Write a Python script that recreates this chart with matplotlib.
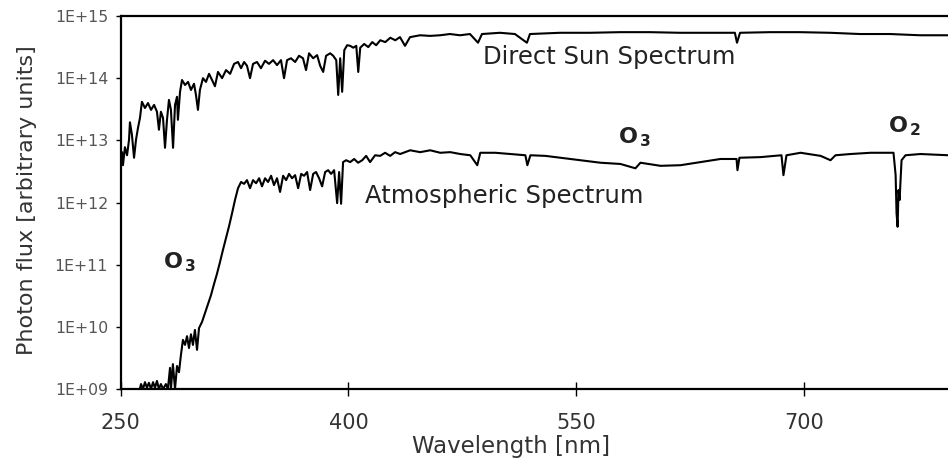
import numpy as np
import matplotlib
matplotlib.use('Agg')
import matplotlib.pyplot as plt

# Espectro directo del sol: longitud de onda [nm] y log10 del flujo
sun_wl = [250.2, 250.9, 251.5, 252.8, 254.2, 255.5, 256.1, 257.4, 258.8, 260.1,
          261.4, 262.7, 264.0, 266.0, 268.0, 270.0, 272.0, 273.9, 275.2, 276.5,
          277.9, 279.2, 280.5, 281.8, 283.1, 284.5, 285.8, 287.1, 287.7, 289.1,
          290.4, 292.4, 294.4, 296.3, 298.3, 299.6, 300.9, 302.2, 304.2, 306.2,
          308.2, 310.2, 312.1, 314.1, 316.8, 319.4, 322.1, 324.7, 327.3, 329.3,
          331.3, 333.2, 335.2, 337.2, 339.8, 342.4, 345.1, 347.7, 350.4, 353.0,
          355.6, 357.6, 359.6, 362.2, 364.9, 367.5, 370.1, 372.1, 374.1, 376.8,
          379.4, 381.4, 383.4, 385.3, 388.0, 390.0, 392.0, 393.3, 394.6, 395.9,
          397.3, 399.2, 401.2, 403.2, 405.2, 406.5, 407.8, 410.4, 413.1, 415.7,
          418.3, 421.0, 424.3, 427.6, 430.9, 434.0, 437.3, 440.6, 447.2, 453.8,
          460.4, 466.9, 473.5, 480.1, 485.4, 488.0, 499.8, 509.7, 517.6, 519.6,
          539.4, 559.1, 578.9, 598.6, 618.4, 638.2, 654.6, 656.0, 658.0, 677.7,
          697.5, 717.3, 737.0, 756.8, 776.6, 795.0]
sun_log = [12.68, 12.81, 12.60, 12.89, 12.76, 13.01, 13.29, 13.09, 12.72, 13.01,
           13.20, 13.36, 13.62, 13.52, 13.60, 13.49, 13.57, 13.46, 13.17, 13.46,
           13.36, 12.88, 13.33, 13.65, 13.49, 12.88, 13.57, 13.70, 13.33, 13.78,
           13.97, 13.89, 13.94, 13.81, 13.91, 13.73, 13.49, 13.81, 14.00, 13.94,
           14.07, 13.97, 13.87, 14.10, 14.00, 14.13, 14.07, 14.23, 14.26, 14.16,
           14.26, 14.20, 14.00, 14.23, 14.26, 14.16, 14.28, 14.23, 14.29, 14.21,
           14.29, 14.00, 14.29, 14.32, 14.26, 14.36, 14.32, 14.13, 14.40, 14.32,
           14.37, 14.20, 14.10, 14.36, 14.40, 14.36, 14.29, 13.73, 14.32, 13.78,
           14.45, 14.53, 14.52, 14.49, 14.52, 14.10, 14.49, 14.55, 14.50, 14.58,
           14.53, 14.61, 14.58, 14.65, 14.61, 14.66, 14.52, 14.66, 14.69, 14.68,
           14.69, 14.71, 14.69, 14.71, 14.57, 14.71, 14.73, 14.71, 14.57, 14.71,
           14.73, 14.73, 14.74, 14.74, 14.73, 14.73, 14.73, 14.57, 14.73, 14.74,
           14.74, 14.73, 14.71, 14.71, 14.69, 14.69]

# Espectro atmosferico
atm_wl = [262.1, 263.4, 264.7, 266.0, 267.3, 268.6, 270.0, 271.3, 272.6, 273.9,
          275.2, 276.5, 277.9, 279.8, 281.1, 282.5, 283.1, 284.4, 285.8, 287.1,
          288.4, 289.7, 291.0, 292.4, 293.7, 295.0, 296.3, 297.6, 298.9, 300.3,
          301.6, 303.6, 305.5, 307.5, 309.5, 311.5, 313.4, 315.4, 317.4, 319.4,
          321.4, 323.3, 325.3, 327.3, 329.3, 331.3, 333.2, 335.2, 337.2, 339.2,
          341.2, 343.1, 345.1, 347.1, 349.1, 351.0, 353.0, 355.0, 357.0, 359.0,
          360.9, 362.9, 364.9, 366.9, 368.9, 370.8, 372.8, 374.8, 376.8, 378.7,
          380.7, 382.7, 384.7, 386.7, 388.6, 390.6, 392.6, 393.9, 395.2, 396.5,
          398.5, 401.2, 403.8, 406.4, 409.1, 411.7, 414.3, 417.6, 420.9, 424.2,
          427.5, 430.8, 434.1, 440.7, 447.3, 453.9, 460.5, 467.1, 473.7, 480.3,
          484.9, 486.9, 496.8, 506.7, 516.6, 517.9, 519.9, 529.8, 539.6, 552.8,
          566.0, 579.2, 589.1, 592.4, 605.6, 618.8, 632.0, 645.1, 655.7, 656.3,
          657.6, 671.5, 685.3, 686.6, 688.6, 697.9, 711.1, 717.6, 720.9, 730.8,
          744.0, 759.1, 760.5, 761.1, 761.8, 762.4, 763.1, 764.4, 767.0, 776.9, 795.3]
atm_log = [8.95, 9.08, 9.00, 9.11, 9.02, 9.10, 9.00, 9.11, 9.02, 9.13,
           9.00, 9.08, 9.00, 9.08, 9.00, 9.34, 9.00, 9.40, 9.00, 9.37,
           9.27, 9.55, 9.79, 9.71, 9.85, 9.66, 9.88, 9.71, 9.95, 9.63,
           9.98, 10.08, 10.22, 10.37, 10.51, 10.69, 10.85, 11.04, 11.24, 11.43,
           11.62, 11.82, 12.04, 12.23, 12.33, 12.30, 12.36, 12.23, 12.36, 12.31,
           12.39, 12.26, 12.39, 12.33, 12.43, 12.28, 12.39, 12.17, 12.43, 12.36,
           12.46, 12.39, 12.44, 12.23, 12.46, 12.43, 12.49, 12.20, 12.46, 12.49,
           12.39, 12.26, 12.49, 12.52, 12.46, 12.52, 11.99, 12.49, 11.98, 12.65,
           12.68, 12.65, 12.70, 12.64, 12.68, 12.75, 12.65, 12.76, 12.75, 12.80,
           12.75, 12.81, 12.78, 12.84, 12.81, 12.84, 12.80, 12.81, 12.78, 12.76,
           12.60, 12.80, 12.80, 12.78, 12.76, 12.60, 12.76, 12.75, 12.72, 12.68,
           12.64, 12.62, 12.55, 12.64, 12.59, 12.60, 12.65, 12.70, 12.70, 12.52,
           12.72, 12.73, 12.76, 12.44, 12.76, 12.80, 12.75, 12.68, 12.76, 12.78,
           12.80, 12.80, 12.44, 11.83, 11.61, 12.20, 12.04, 12.68, 12.76, 12.78, 12.76]

x_ticks = [250, 400, 550, 700]
y_ticks = [1e9, 1e10, 1e11, 1e12, 1e13, 1e14, 1e15]
y_labels = ['1E+09', '1E+10', '1E+11', '1E+12', '1E+13', '1E+14', '1E+15']

sun_flux = 10.0 ** np.array(sun_log)
atm_flux = 10.0 ** np.array(atm_log)

fig = plt.figure(figsize=(9.48, 4.65), dpi=100)
ax = fig.add_axes([0.1273, 0.1634, 0.8727, 0.8022])

ax.plot(sun_wl, sun_flux, color='black', lw=1.5)
ax.plot(atm_wl, atm_flux, color='black', lw=1.5)

ax.set_yscale('log')
ax.set_xlim(250, 795)
ax.set_ylim(1e9, 1e15)
ax.set_xticks(x_ticks)
ax.set_xticklabels([str(t) for t in x_ticks])
ax.set_yticks(y_ticks)
ax.set_yticklabels(y_labels)
ax.yaxis.set_minor_locator(matplotlib.ticker.NullLocator())

ax.tick_params(axis='x', direction='inout', length=10, width=1.0, pad=12,
               labelsize=15, labelcolor='#333333')
ax.tick_params(axis='y', direction='out', length=3.6, width=1.0, pad=5.5,
               labelsize=11.3, labelcolor='#555555')

for side in ['top', 'left', 'bottom']:
    ax.spines[side].set_linewidth(1.6)
ax.spines['right'].set_visible(False)

ax.set_xlabel('Wavelength [nm]', fontsize=16.5, color='#333333')
ax.xaxis.set_label_coords(0.4718, -0.123)
ax.set_ylabel('Photon flux [arbitrary units]', fontsize=16, color='#333333')
ax.yaxis.set_label_coords(-0.101, 0.507)

# Etiquetas dentro del grafico
ax.text(488.7, 10**14.34, 'Direct Sun Spectrum', fontsize=17.5, color='#222222',
        ha='left', va='center')
ax.text(410.9, 10**12.105, 'Atmospheric Spectrum', fontsize=17.5, color='#222222',
        ha='left', va='center')
ax.text(277.9, 10**10.947, r'$\mathbf{O}_{\,\mathbf{3}}$', fontsize=16,
        color='#222222', ha='left', va='baseline')
ax.text(577.6, 10**12.957, r'$\mathbf{O}_{\,\mathbf{3}}$', fontsize=16,
        color='#222222', ha='left', va='baseline')
ax.text(755.5, 10**13.134, r'$\mathbf{O}_{\,\mathbf{2}}$', fontsize=16,
        color='#222222', ha='left', va='baseline')

plt.savefig('out.png', dpi=100)
